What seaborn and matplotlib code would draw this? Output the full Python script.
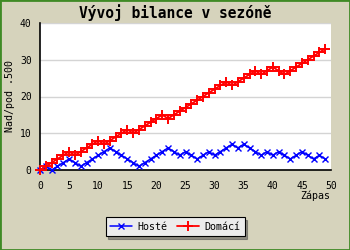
import matplotlib
matplotlib.use("Agg")
import matplotlib.pyplot as plt
import seaborn as sns
import pandas as pd
from matplotlib.patches import Rectangle

zapas = list(range(50))
hoste = [0, 1, 0, 1, 2, 3, 2, 1, 2, 3, 4, 5, 6, 5, 4, 3, 2, 1, 2, 3,
         4, 5, 6, 5, 4, 5, 4, 3, 4, 5, 4, 5, 6, 7, 6, 7, 6, 5, 4, 5,
         4, 5, 4, 3, 4, 5, 4, 3, 4, 3]
domaci = [0, 1, 2, 3, 4, 5, 4, 5, 6, 7, 8, 7, 8, 9, 10, 11, 10, 11, 12, 13,
          14, 15, 14, 15, 16, 17, 18, 19, 20, 21, 22, 23, 24, 23, 24, 25, 26, 27, 26, 27,
          28, 27, 26, 27, 28, 29, 30, 31, 32, 33]
series_names = ["Hosté", "Domácí"]
x_ticks = [0, 5, 10, 15, 20, 25, 30, 35, 40, 45, 50]
y_ticks = [0, 10, 20, 30, 40]
title = "Vývoj bilance v sezóně"
x_label = "Zápas"
y_label = "Nad/pod .500"

df = pd.DataFrame({
    "Zápas": zapas * 2,
    "bilance": hoste + domaci,
    "tým": [series_names[0]] * len(zapas) + [series_names[1]] * len(zapas),
})

sns.set_style("white")
plt.rcParams["font.family"] = ["DejaVu Sans Mono", "DejaVu Sans"]
plt.rcParams["text.color"] = "black"

bg = "#d6d3bc"
fig = plt.figure(figsize=(3.5, 2.5), dpi=100, facecolor=bg)
ax = fig.add_axes([40 / 350, 1 - 170 / 250, 291 / 350, 147 / 250])
ax.set_facecolor("white")

styles = {"Hosté": dict(color="#0000ff", marker="x", lw=1.1, ms=5, mew=1.0),
          "Domácí": dict(color="#ff0000", marker="+", lw=1.3, ms=6.5, mew=1.4)}
for name in series_names:
    st = styles[name]
    sns.lineplot(data=df[df["tým"] == name], x="Zápas", y="bilance", ax=ax,
                 color=st["color"], marker=st["marker"], linewidth=st["lw"],
                 markersize=st["ms"], markeredgewidth=st["mew"],
                 markeredgecolor=st["color"], label=name, legend=False,
                 clip_on=False, zorder=3)

ax.set_xlim(0, 50)
ax.set_ylim(0, 40)
ax.set_xticks(x_ticks)
ax.set_yticks(y_ticks)
ax.set_xticklabels([str(t) for t in x_ticks])
ax.set_yticklabels([str(t) for t in y_ticks])
ax.grid(axis="y", color="#d4d4d4", linewidth=1.0)
ax.grid(axis="x", visible=False)
for s in ["top", "right"]:
    ax.spines[s].set_visible(False)
for s in ["left", "bottom"]:
    ax.spines[s].set_color("black")
    ax.spines[s].set_linewidth(1.2)
ax.tick_params(axis="both", direction="in", length=4, width=1.2, color="black",
               labelsize=7, colors="black")
ax.tick_params(axis="x", pad=8)
ax.tick_params(axis="y", pad=6)
ax.set_xlabel("")
ax.set_ylabel("")

fig.text(330 / 350, 1 - 196 / 250, x_label, ha="right", va="center", fontsize=7.2, color="black")
fig.text(10 / 350, 1 - 96 / 250, y_label, ha="center", va="center", rotation=90,
         fontsize=7.2, color="black")
fig.text(0.5, 1 - 12.5 / 250, title, ha="center", va="center", fontsize=10.5,
         fontweight="bold", color="black")

handles, labels = ax.get_legend_handles_labels()
leg = fig.legend(handles, labels, loc="center", bbox_to_anchor=(175 / 350, 1 - 226.5 / 250),
                 ncol=2, fontsize=7.2, frameon=True, fancybox=False, shadow=True,
                 handlelength=2.2, handletextpad=0.5, columnspacing=1.0,
                 borderpad=0.45, edgecolor="black", facecolor="#ececec", framealpha=1)
leg.get_frame().set_linewidth(0.8)
for t in leg.get_texts():
    t.set_color("black")

fig.patches.append(Rectangle((0, 0), 1, 1, transform=fig.transFigure, fill=False,
                             edgecolor="#3f8a25", linewidth=2.0, zorder=10))

fig.savefig("out.png", dpi=100, facecolor=bg)
